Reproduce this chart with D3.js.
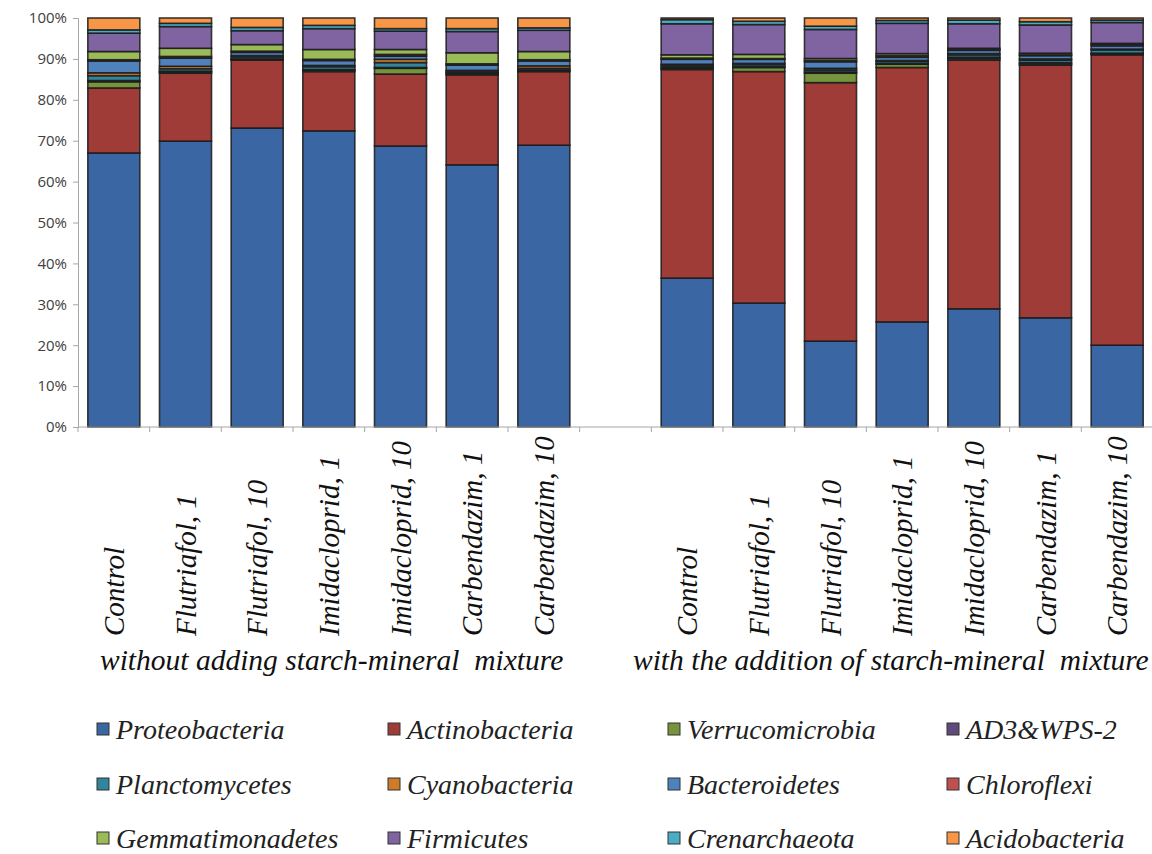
<!DOCTYPE html>
<html><head><meta charset="utf-8">
<script src="https://cdn.jsdelivr.net/npm/d3@7"></script>
<style>html,body{margin:0;padding:0;background:#fff;}svg{display:block;}</style>
</head><body>
<svg id="chart" width="1152" height="854"></svg>
<script>
const categories = ["Control","Flutriafol, 1","Flutriafol, 10","Imidacloprid, 1","Imidacloprid, 10","Carbendazim, 1","Carbendazim, 10"];
const groupLabels = ["without adding starch-mineral  mixture","with the addition of starch-mineral  mixture"];
const yTicks = [0,10,20,30,40,50,60,70,80,90,100];
const seriesNames = ["Proteobacteria","Actinobacteria","Verrucomicrobia","AD3&WPS-2","Planctomycetes","Cyanobacteria","Bacteroidetes","Chloroflexi","Gemmatimonadetes","Firmicutes","Crenarchaeota","Acidobacteria"];
const seriesColors = ["#3A67A3","#A03C38","#77933C","#604A7B","#31859C","#D07A2C","#4F81BD","#C0504D","#9BBB59","#8064A2","#4BACC6","#F79646"];
// first 7 values: without mixture; last 7: with mixture
const proteobacteria   = [67.0,69.9,73.1,72.4,68.7,64.1,68.9, 36.4,30.3,21.0,25.7,28.9,26.7,20.0];
const actinobacteria   = [15.9,16.6,16.6,14.5,17.6,22.0,18.0, 51.0,56.6,63.2,62.2,60.8,61.8,71.0];
const verrucomicrobia  = [1.5,0.3,0.2,0.3,1.4,0.3,0.2, 0.3,1.0,2.3,0.8,0.4,0.3,0.2];
const ad3wps2          = [0.3,0.2,0.1,0.2,0.2,0.2,0.2, 0.3,0.2,0.3,0.2,0.3,0.3,0.2];
const planctomycetes   = [1.2,0.6,0.5,0.7,1.2,0.3,0.4, 0.4,0.5,0.5,0.5,0.6,0.6,0.8];
const cyanobacteria    = [0.7,0.6,0.3,0.3,0.8,0.3,0.6, 0.3,0.3,0.4,0.2,0.3,0.3,0.2];
const bacteroidetes    = [2.9,2.0,0.8,1.2,0.8,1.3,1.2, 1.2,1.0,1.6,0.8,0.8,0.8,0.8];
const chloroflexi      = [0.3,0.4,0.3,0.3,0.4,0.3,0.3, 0.3,0.2,0.3,0.4,0.2,0.2,0.4];
const gemmatimonadetes = [2.0,2.0,1.6,2.4,1.2,2.7,2.0, 0.8,1.0,0.5,0.5,0.3,0.4,0.2];
const firmicutes       = [4.5,5.3,3.4,5.1,4.5,5.2,5.2, 7.6,7.3,7.1,7.4,6.0,6.9,5.1];
const crenarchaeota    = [0.8,0.8,0.8,0.8,0.6,0.7,0.6, 1.0,0.8,0.8,0.7,0.9,0.8,0.6];
const acidobacteria    = [2.9,1.3,2.3,1.8,2.6,2.6,2.4, 0.4,0.8,2.0,0.6,0.5,0.9,0.5];

const seriesValues = [proteobacteria,actinobacteria,verrucomicrobia,ad3wps2,planctomycetes,cyanobacteria,bacteroidetes,chloroflexi,gemmatimonadetes,firmicutes,crenarchaeota,acidobacteria];

// build table: keys with a gap slot in the middle
const keys = [];
categories.forEach((c,i)=>keys.push("a"+i));
keys.push("gap");
categories.forEach((c,i)=>keys.push("b"+i));
const rows = [];
for (let i=0;i<14;i++){
  const r = {key: i<7 ? "a"+i : "b"+(i-7), label: categories[i%7]};
  seriesNames.forEach((s,j)=>{ r[s] = seriesValues[j][i]; });
  rows.push(r);
}

const svg = d3.select("#chart");
const pLeft = 78, pRight = 1153, pTop = 18, pBottom = 427;
const x = d3.scaleBand().domain(keys).range([pLeft,pRight]).paddingInner(0.274).paddingOuter(0.137);
const y = d3.scaleLinear().domain([0,100]).range([pBottom,pTop]);
const color = d3.scaleOrdinal().domain(seriesNames).range(seriesColors);

// y axis
const yAxis = d3.axisLeft(y).tickValues(yTicks).tickFormat(d=>d+"%").tickSize(5).tickPadding(6);
const gy = svg.append("g").attr("transform",`translate(${pLeft},0)`).call(yAxis);
gy.select(".domain").attr("stroke","#a6a6a6");
gy.selectAll(".tick line").attr("stroke","#a6a6a6");
gy.selectAll(".tick text").attr("font-family","'Open Sans', 'DejaVu Sans', sans-serif").attr("font-size",15).attr("fill","#404040");

// bars
const stack = d3.stack().keys(seriesNames);
const stacked = stack(rows);
svg.append("g").selectAll("g").data(stacked).join("g")
  .attr("fill", d=>color(d.key))
  .selectAll("rect").data(d=>d).join("rect")
  .attr("x", d=>x(d.data.key))
  .attr("width", x.bandwidth())
  .attr("y", d=>y(d[1]))
  .attr("height", d=>y(d[0])-y(d[1]))
  .attr("stroke","#1a1a1a").attr("stroke-width",1.6).attr("stroke-opacity",0.85);

// x axis line and boundary ticks
const step = x.step();
const gx = svg.append("g");
gx.append("line").attr("x1",pLeft).attr("x2",1152).attr("y1",pBottom).attr("y2",pBottom).attr("stroke","#a6a6a6");
gx.selectAll("line.tk").data(d3.range(keys.length+1)).join("line").attr("class","tk")
  .attr("x1",i=>pLeft+i*step).attr("x2",i=>pLeft+i*step)
  .attr("y1",pBottom).attr("y2",pBottom+5).attr("stroke","#a6a6a6");

// category labels (rotated)
const serif = "'Liberation Serif','DejaVu Serif',serif";
svg.append("g").selectAll("text").data(rows).join("text")
  .attr("transform", d=>`translate(${x(d.key)+x.bandwidth()/2+10},636) rotate(-90)`)
  .attr("text-anchor","start")
  .attr("font-family",serif).attr("font-style","italic").attr("font-size",29).attr("fill","#111")
  .text(d=>d.label);

// group labels
svg.append("g").selectAll("text").data(groupLabels).join("text")
  .attr("x",(d,i)=> i===0 ? 100 : 633)
  .attr("y",670)
  .attr("font-family",serif).attr("font-style","italic").attr("font-size",29.5).attr("fill","#111")
  .style("white-space","pre")
  .text(d=>d);

// legend
const legendCols = [97, 388, 668, 947];
const legendRows = [729, 784, 838];
const lg = svg.append("g").selectAll("g").data(seriesNames).join("g")
  .attr("transform",(d,i)=>`translate(${legendCols[i%4]},${legendRows[Math.floor(i/4)]})`);
lg.append("rect").attr("x",0).attr("y",-6).attr("width",12).attr("height",12)
  .attr("fill",d=>color(d)).attr("stroke","#333").attr("stroke-width",1);
lg.append("text").attr("x",19).attr("y",0).attr("dy","0.35em")
  .attr("font-family",serif).attr("font-style","italic").attr("font-size",28).attr("fill","#222")
  .text(d=>d);
</script>
</body></html>
